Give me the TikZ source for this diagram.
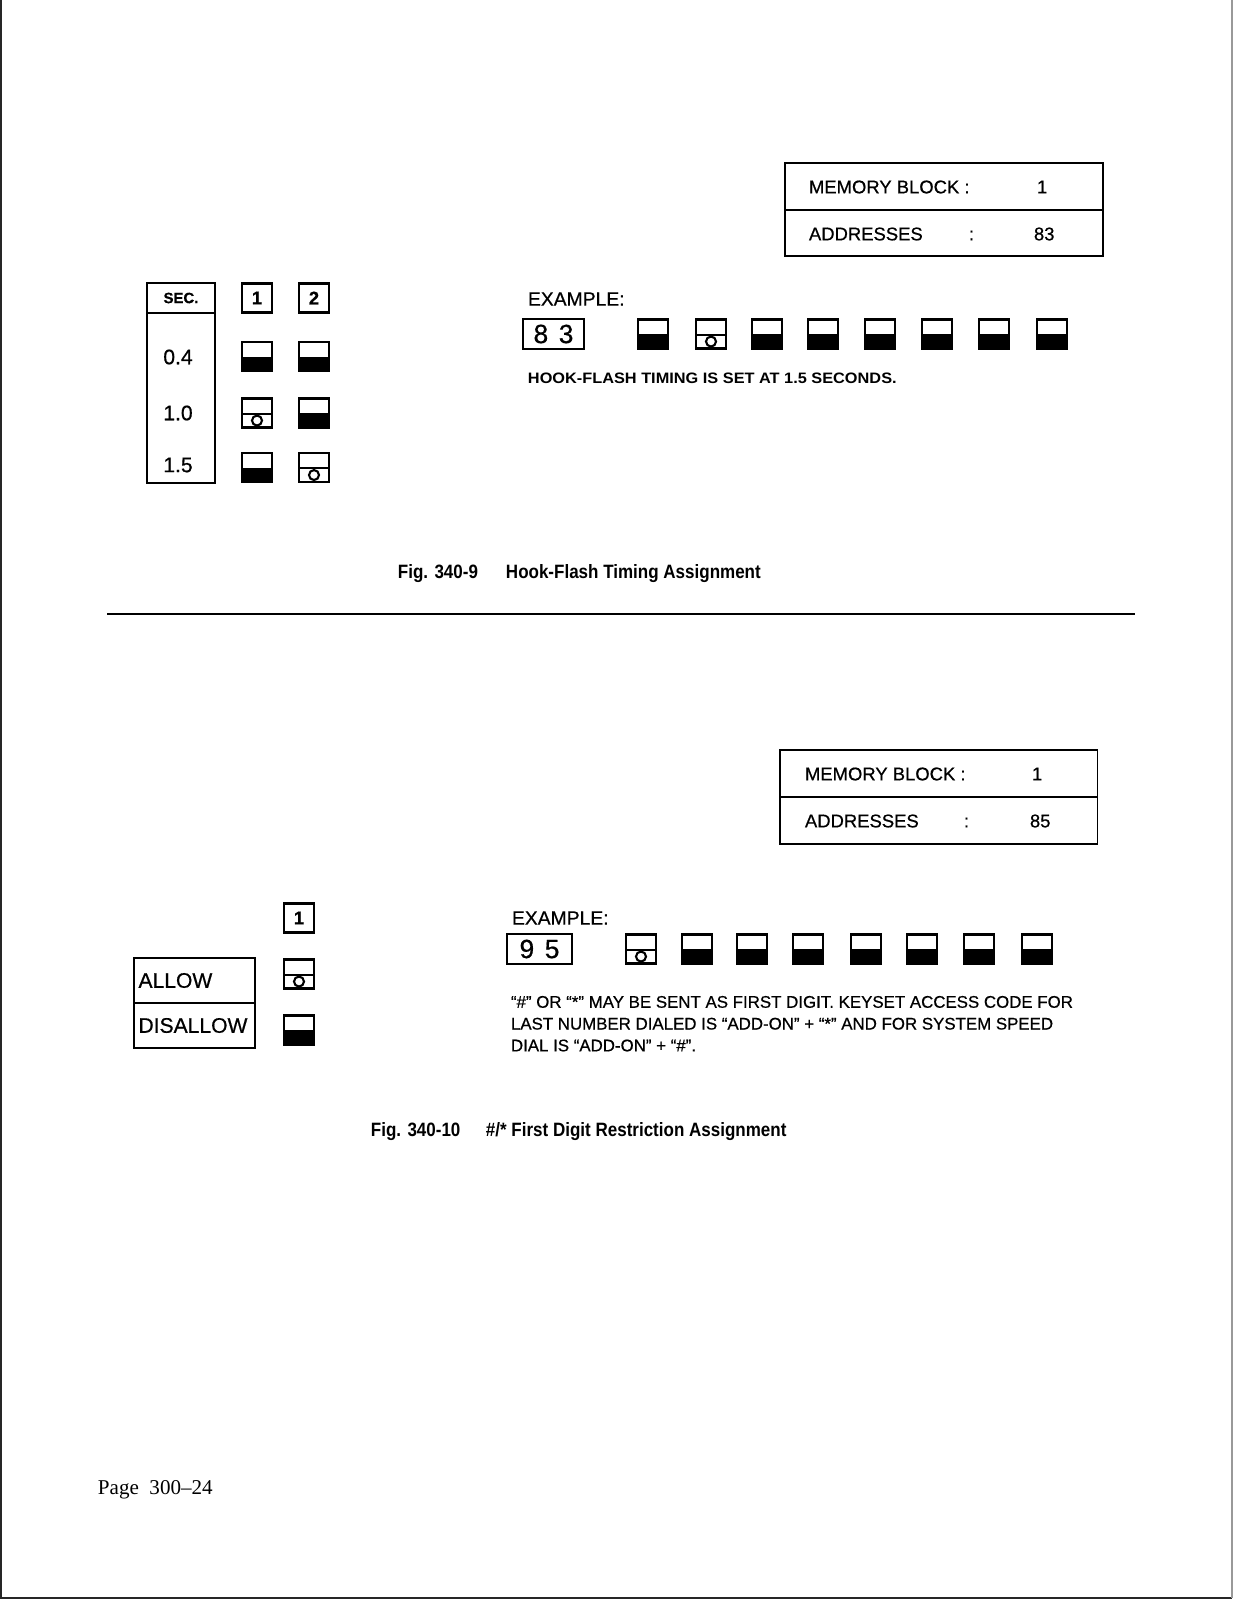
\documentclass[tikz,border=0pt]{standalone}
\usepackage{fontspec}
\setmainfont{Liberation Sans}[FakeBold=0.6]
\newfontfamily\capfont[FakeStretch=0.88]{Liberation Sans}
\newfontfamily\widefont[FakeStretch=1.08]{Liberation Sans}
\newfontfamily\pagefont{Liberation Serif}
\usetikzlibrary{calc}

\begin{document}
\begin{tikzpicture}[x=0.02cm,y=-0.02cm,line width=1.1pt]
\tikzstyle{cell}=[draw,inner sep=0pt,outer sep=0pt]
\tikzstyle{sw}=[draw,line width=1.6pt,minimum width=0.6cm,minimum height=0.58cm,inner sep=0pt,font=\bfseries\fontsize{10.5}{12}\selectfont]
\tikzstyle{swdn}=[sw,path picture={\fill (path picture bounding box.west) rectangle (path picture bounding box.south east);}]
\tikzstyle{swup}=[sw,path picture={\draw[line width=1.2pt] ($(path picture bounding box.west)!0.04!(path picture bounding box.south west)$) -- ($(path picture bounding box.east)!0.04!(path picture bounding box.south east)$); \draw[line width=1.2pt] ($(path picture bounding box.south)!0.24!(path picture bounding box.north)$) circle (0.1cm);}]
\tikzstyle{txt}=[inner sep=0pt,anchor=west,font=\fontsize{10.5}{12}\selectfont]
\tikzstyle{seg}=[cell,line width=1.4pt,minimum height=0.6cm,font=\fontsize{15}{15}\selectfont]
\tikzstyle{figcap}=[inner sep=0pt,anchor=west,font=\capfont\bfseries\fontsize{11}{13}\selectfont]
\useasboundingbox (0,0) rectangle (1234,1600);
\draw[black!85,line width=1.2pt] (1,0) -- (1,1598) -- (1232,1598);
\draw[gray!80,line width=1.4pt] (1232,0) -- (1232,1598);
% Fig. 340-9
\node[cell,minimum width=6.36cm,minimum height=0.93cm] (mb1) at (944,186.5) {};
\node[cell,minimum width=6.36cm,minimum height=0.93cm] (ad1) at (944,233) {};
\node[txt] (mb1t) at (808,187) {MEMORY BLOCK :};
\node[txt] (mb1v) at (1036,187) {1};
\node[txt] (ad1t) at (808,234) {ADDRESSES};
\node[txt] (ad1c) at (968,234) {:\vphantom{A}};
\node[txt] (ad1v) at (1033,234) {83};
\node[cell,minimum width=1.36cm,minimum height=0.6cm,font=\bfseries\fontsize{8.5}{10}\selectfont] (sec) at (181,298) {SEC.};
\node[cell,minimum width=1.36cm,minimum height=3.4cm,anchor=north] (secv) at (sec.south) {};
\node[font=\fontsize{12}{14}\selectfont] (t04) at (178,357) {0.4};
\node[font=\fontsize{12}{14}\selectfont] (t10) at (178,413) {1.0};
\node[font=\fontsize{12}{14}\selectfont] (t15) at (178,465) {1.5};
\node[sw] (k1) at (257,298) {1};
\node[sw] (k2) at (314,298) {2};
\node[swdn] (a1) at (257,356.5) {};
\node[swup] (b1) at (257,413) {};
\node[swdn] (c1) at (257,467.5) {};
\node[swdn] (a2) at (314,356.5) {};
\node[swdn] (b2) at (314,413) {};
\node[swup] (c2) at (314,467.5) {};
\node[txt,font=\fontsize{11}{13}\selectfont] (ex1) at (527,299) {EXAMPLE:};
\node[seg,minimum width=1.22cm] (d1) at (553.5,334) {8\hspace{6pt}3};
\node[swdn] (e11) at (653,334) {};
\node[swup] (e12) at (711,334) {};
\node[swdn] (e13) at (767,334) {};
\node[swdn] (e14) at (823,334) {};
\node[swdn] (e15) at (880,334) {};
\node[swdn] (e16) at (937,334) {};
\node[swdn] (e17) at (994,334) {};
\node[swdn] (e18) at (1052,334) {};
\node[txt,font=\widefont\bfseries\fontsize{8.6}{10}\selectfont] (hf) at (527,378) {HOOK-FLASH TIMING IS SET AT 1.5 SECONDS.};
\node[figcap] (f9) at (397,574) {Fig. 340-9};
\node[figcap] (f9t) at (505,574) {Hook-Flash Timing Assignment};
\draw[line width=0.9pt] (107,614) -- (1135,614);
% Fig. 340-10
\node[cell,minimum width=6.36cm,minimum height=0.93cm] (mb2) at (938.5,773.5) {};
\node[cell,minimum width=6.36cm,minimum height=0.93cm] (ad2) at (938.5,820.5) {};
\node[txt] (mb2t) at (804,774) {MEMORY BLOCK :};
\node[txt] (mb2v) at (1031,774) {1};
\node[txt] (ad2t) at (804,821) {ADDRESSES};
\node[txt] (ad2c) at (963,821) {:\vphantom{A}};
\node[txt] (ad2v) at (1029,821) {85};
\node[sw] (k3) at (299,918) {1};
\node[cell,minimum width=2.42cm,minimum height=0.9cm,text width=2.24cm,align=left,inner xsep=0.09cm,font=\fontsize{12}{14}\selectfont] (allow) at (194.5,980.5) {ALLOW};
\node[cell,minimum width=2.42cm,minimum height=0.9cm,text width=2.24cm,align=left,inner xsep=0.09cm,font=\fontsize{12}{14}\selectfont,anchor=north] (disallow) at (allow.south) {DISALLOW};
\node[swup] (s1) at (299,974) {};
\node[swdn] (s2) at (299,1030) {};
\node[txt,font=\fontsize{11}{13}\selectfont] (ex2) at (511,918) {EXAMPLE:};
\node[seg,minimum width=1.3cm] (d2) at (539.5,949) {9\hspace{6pt}5};
\node[swup] (e21) at (641,949) {};
\node[swdn] (e22) at (697,949) {};
\node[swdn] (e23) at (752,949) {};
\node[swdn] (e24) at (808,949) {};
\node[swdn] (e25) at (866,949) {};
\node[swdn] (e26) at (922,949) {};
\node[swdn] (e27) at (979,949) {};
\node[swdn] (e28) at (1037,949) {};
\node[inner sep=0pt,anchor=north west,align=left,font=\fontsize{9.6}{12.4}\selectfont] (note) at (510,995) {“\#” OR “*” MAY BE SENT AS FIRST DIGIT. KEYSET ACCESS CODE FOR\\ LAST NUMBER DIALED IS “ADD-ON” + “*” AND FOR SYSTEM SPEED\\ DIAL IS “ADD-ON” + “\#”.};
\node[figcap] (f10) at (370,1132) {Fig. 340-10};
\node[figcap] (f10t) at (485,1132) {\#/* First Digit Restriction Assignment};
\node[inner sep=0pt,anchor=west,font=\pagefont\fontsize{12}{14}\selectfont] (pg) at (97,1490) {Page\enspace300–24};
\end{tikzpicture}
\end{document}
